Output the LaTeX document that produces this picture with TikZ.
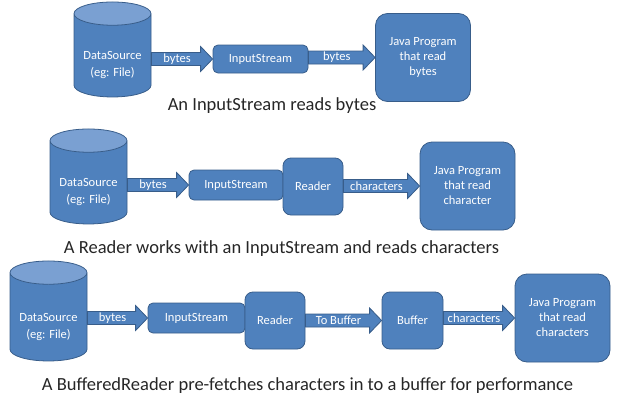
\documentclass[tikz,border=0pt]{standalone}
\usepackage{fontspec}
\setmainfont{Carlito}
\usetikzlibrary{calc, shapes.geometric, positioning}
\definecolor{boxblue}{RGB}{79,129,189}
\definecolor{lineblue}{RGB}{56,93,138}
\definecolor{topblue}{RGB}{122,160,210}

\begin{document}
\begin{tikzpicture}
		[x=1pt, y=-1pt,
		src/.style = {cylinder, shape border rotate=90, aspect=0.4, draw=lineblue, line width=0.8pt, cylinder uses custom fill, cylinder body fill=boxblue, cylinder end fill=topblue, minimum width=77pt, text=white, align=center, inner sep=0pt, text height=46pt, text depth=4pt, font=\fontsize{12.5}{17}\selectfont},
		box/.style = {draw=lineblue, fill=boxblue, line width=0.8pt, rounded corners=5pt, text=white, align=center, inner sep=0pt, font=\fontsize{12.5}{15}\selectfont},
		blk/.style = {box, rounded corners=8pt, minimum width=60pt, minimum height=57pt},
		prog/.style = {box, rounded corners=12pt, minimum width=95pt, minimum height=88pt},
		note/.style = {anchor=base, text=black!85, font=\fontsize{18.5}{22}\selectfont},
		lbl/.style = {text=white, inner sep=0pt, font=\fontsize{12.5}{15}\selectfont},
		flow/.style = {draw=lineblue, fill=boxblue, line width=0.8pt,
			to path={let \p1=(\tikztostart.east), \p2=(\tikztotarget.west) in
				(\x1,\y2+6.5pt) -- (\x2-12pt,\y2+6.5pt) -- (\x2-12pt,\y2+12.5pt) -- (\x2,\y2)
				-- (\x2-12pt,\y2-12.5pt) -- (\x2-12pt,\y2-6.5pt) -- (\x1,\y2-6.5pt) -- cycle
				node[lbl, at={(\x1/2+\x2/2-5pt,\y2)}] {#1}}}]
		
		\useasboundingbox (0,0) rectangle (619,402);
		
		% InputStream only
		\node[src, minimum height=95pt] (ds1) at (112.5,55.5) {DataSource\\(eg: File)};
		\node[box, minimum width=95pt, minimum height=28pt] (is1) at (260.5,59) {InputStream};
		\node[prog] (jp1) at (423,57.5) {Java Program\\that read\\bytes};
		\node[note] (cap1) at (272,110) {An InputStream reads bytes};
		\draw[flow=bytes] (ds1) to (is1);
		\draw[flow=bytes] (is1) to (jp1);
		
		% Reader
		\node[src, minimum height=95pt] (ds2) at (88.5,182.5) {DataSource\\(eg: File)};
		\node[box, minimum width=94pt, minimum height=30pt] (is2) at (236,185) {InputStream};
		\node[blk] (rd2) at (313,186.5) {Reader};
		\node[prog] (jp2) at (467.5,186) {Java Program\\that read\\character};
		\node[note] (cap2) at (281.5,253) {A Reader works with an InputStream and reads characters};
		\draw[flow=bytes] (ds2) to (is2);
		\draw[flow=characters] (rd2) to (jp2);
		
		% BufferedReader
		\node[src, minimum height=100pt] (ds3) at (48.5,317) {DataSource\\(eg: File)};
		\node[box, minimum width=97pt, minimum height=30pt] (is3) at (196.5,318) {InputStream};
		\node[blk] (rd3) at (275,320.5) {Reader};
		\node[blk, minimum width=61pt] (bf3) at (412.5,320.5) {Buffer};
		\node[prog] (jp3) at (562.5,318) {Java Program\\that read\\characters};
		\node[note] (cap3) at (307.5,390) {A BufferedReader pre-fetches characters in to a buffer for performance};
		\draw[flow=bytes] (ds3) to (is3);
		\draw[flow=To Buffer] (rd3) to (bf3);
		\draw[flow=characters] (bf3) to (jp3);
	\end{tikzpicture}
\end{document}
